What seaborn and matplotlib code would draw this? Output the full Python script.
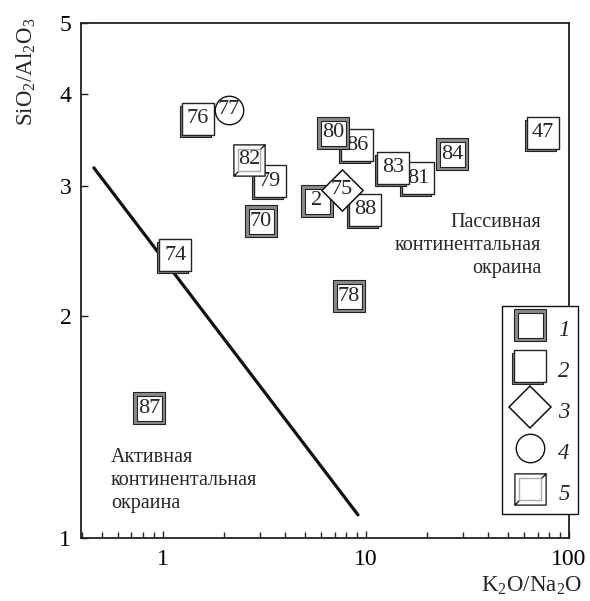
import numpy as np
import pandas as pd
import matplotlib
matplotlib.use("Agg")
import matplotlib.pyplot as plt
import seaborn as sns
from matplotlib.markers import MarkerStyle
from matplotlib.path import Path
from matplotlib.transforms import Affine2D
from matplotlib.lines import Line2D
from matplotlib.ticker import NullLocator, NullFormatter, LogLocator, FixedLocator

# Data: sample labels, K2O/Na2O, SiO2/Al2O3, symbol type (drawing order matters for overlaps)
labels = ["87", "78", "74", "76", "77", "70", "79", "82", "86", "80",
          "81", "83", "84", "47", "2", "88", "75"]
k2o_na2o = [0.853, 8.25, 1.15, 1.49, 2.11, 3.04, 3.37, 2.65, 9.03, 6.88,
            18.0, 13.6, 26.5, 74.5, 5.74, 9.89, 7.62]
sio2_al2o3 = [1.50, 2.13, 2.42, 3.71, 3.81, 2.69, 3.05, 3.26, 3.41, 3.55,
              3.08, 3.18, 3.32, 3.55, 2.87, 2.79, 2.97]
kinds = [1, 1, 2, 2, 4, 1, 2, 5, 2, 1,
         2, 2, 1, 2, 1, 2, 3]

# boundary line between active and passive margins
line_x = [0.457, 9.14]
line_y = [3.18, 1.075]

x_ticks = [1, 10, 100]
y_ticks = [1, 2, 3, 4, 5]
legend_labels = ["1", "2", "3", "4", "5"]

df = pd.DataFrame({"label": labels, "x": k2o_na2o, "y": sio2_al2o3, "kind": kinds})

sns.set_style("ticks")
plt.rcParams["font.family"] = ["Liberation Serif", "DejaVu Serif"]
plt.rcParams["mathtext.fontset"] = "custom"
plt.rcParams["mathtext.rm"] = "Liberation Serif"
plt.rcParams["mathtext.it"] = "Liberation Serif:italic"

SQ = 22.5  # square side, points
DARK = "#222222"
GREY = "#8a8a8a"

corner_path = Path(
    [(-1, -1), (1, -1), (1, 1), (-1, 1), (-1, -1),
     (-1, -1), (-0.7, -0.7), (1, 1), (0.7, 0.7)],
    [Path.MOVETO, Path.LINETO, Path.LINETO, Path.LINETO, Path.CLOSEPOLY,
     Path.MOVETO, Path.LINETO, Path.MOVETO, Path.LINETO],
)

# layers: (marker, size in points, face, edge, linewidth)
layers = {
    1: [(MarkerStyle("s"), SQ, GREY, DARK, 0.8),
        (MarkerStyle("s"), SQ - 4.5, "white", DARK, 0.8)],
    2: [(MarkerStyle("s", transform=Affine2D().translate(-0.09, -0.09)), SQ, GREY, DARK, 0.8),
        (MarkerStyle("s"), SQ, "white", DARK, 1.0)],
    3: [(MarkerStyle("D"), 21, "white", "#111111", 1.1)],
    4: [(MarkerStyle("o"), 20.5, "white", "#111111", 1.0)],
    5: [(MarkerStyle(corner_path), SQ, "white", DARK, 1.0),
        (MarkerStyle("s"), SQ * 0.7, "none", "#aaaaaa", 1.0)],
}

fig = plt.figure(figsize=(5.9, 6.01), dpi=100)
ax = fig.add_axes([0.1373, 0.1048, 0.8271, 0.8569])
ax.set_xscale("log")
ax.set_yscale("log")

sns.lineplot(x=line_x, y=line_y, ax=ax, color="#111111", linewidth=2.3, zorder=2)

for i, row in df.iterrows():
    z = 3 + i * 0.1
    for m, size, fc, ec, lw in layers[row["kind"]]:
        sns.scatterplot(x=[row["x"]], y=[row["y"]], ax=ax, marker=m, s=size ** 2,
                        color=fc, edgecolor=ec, linewidth=lw, zorder=z, legend=False)
    ax.text(row["x"], row["y"], row["label"], ha="center", va="center",
            fontsize=16, zorder=z + 0.05)

ax.set_xlim(0.395, 100)
ax.set_ylim(1, 5)
ax.xaxis.set_major_locator(FixedLocator(x_ticks))
ax.set_xticklabels([str(t) for t in x_ticks])
ax.xaxis.set_minor_locator(LogLocator(base=10, subs=np.arange(2, 10)))
ax.xaxis.set_minor_formatter(NullFormatter())
ax.yaxis.set_major_locator(FixedLocator(y_ticks))
ax.set_yticklabels([str(t) for t in y_ticks])
ax.yaxis.set_minor_locator(NullLocator())

ax.tick_params(which="both", direction="in", colors="#222222", labelcolor="black",
               labelsize=17, width=1.0)
ax.tick_params(which="major", length=5)
ax.tick_params(which="minor", length=4)
ax.tick_params(axis="x", pad=8)
ax.tick_params(axis="y", pad=7)
for sp in ax.spines.values():
    sp.set_visible(True)
    sp.set_linewidth(1.3)
    sp.set_color("#222222")

ax.set_xlabel(r"K$_2$O/Na$_2$O", fontsize=16.5)
ax.xaxis.set_label_coords(1.027, -0.072)
ax.xaxis.label.set_ha("right")
ax.set_ylabel(r"SiO$_2$/Al$_2$O$_3$", fontsize=16.5)
ax.yaxis.set_label_coords(-0.088, 0.905)

ax.text(0.943, 0.568, "Пассивная\nконтинентальная\nокраина", transform=ax.transAxes,
        ha="right", va="center", multialignment="right", fontsize=14.5, linespacing=1.3)
ax.text(0.0615, 0.112, "Активная\nконтинентальная\nокраина", transform=ax.transAxes,
        ha="left", va="center", multialignment="left", fontsize=14.5, linespacing=1.3)

# legend with overlaid marker layers
handles = []
for k in [1, 2, 3, 4, 5]:
    parts = []
    for m, size, fc, ec, lw in layers[k]:
        parts.append(Line2D([], [], linestyle="none", marker=m, markersize=size,
                            markerfacecolor=fc, markeredgecolor=ec, markeredgewidth=lw))
    handles.append(tuple(parts))

leg = ax.legend(handles, legend_labels, loc="upper right", bbox_to_anchor=(1.018, 0.45),
                numpoints=1, handlelength=1.7, handleheight=1.5, labelspacing=0.57,
                handletextpad=0.4, borderpad=0.35, borderaxespad=0, fancybox=False,
                framealpha=1, edgecolor="#111111",
                prop={"family": "Liberation Serif", "style": "italic", "size": 16.5})
leg.get_frame().set_linewidth(1.0)
leg.set_zorder(10)

fig.savefig("out.png", dpi=100)
